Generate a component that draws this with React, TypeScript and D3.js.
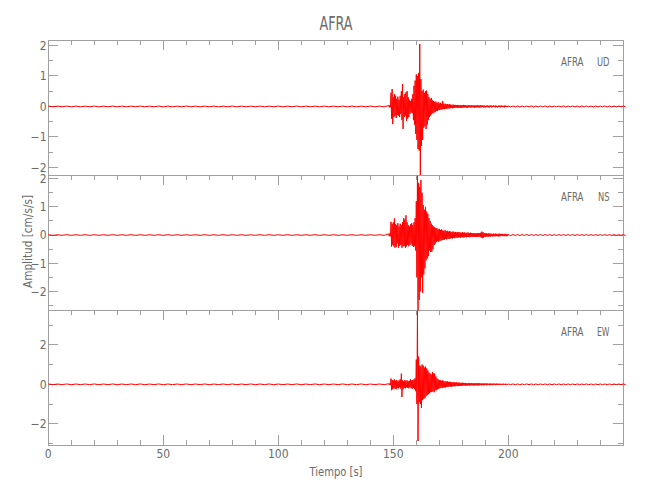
import React from "react";
import * as d3 from "d3";

// ---------- data ----------
const STATION = "AFRA";
const COMPONENTS = ["UD", "NS", "EW"];
const X_DOMAIN: [number, number] = [0, 250];
const X_MAJOR = [0, 50, 100, 150, 200];
const X_MINOR_STEP = 10;
const Y_DOMAINS: [number, number][] = [
  [-2.25, 2.18],
  [-2.66, 2.13],
  [-3.07, 3.76],
];
const Y_MAJOR = [
  [-2, -1, 0, 1, 2],
  [-2, -1, 0, 1, 2],
  [-2, 0, 2],
];
const Y_MINOR_STEP = [0.5, 0.5, 1];

// sampling of the envelope (seconds)
const PRE_START = 0, PRE_STEP = 4;
const ACT_START = 148, ACT_STEP = 0.5;
const TAIL_START = 200, TAIL_STEP = 2;

// quiet part before the event (envelope amplitude, 0..144 s every 4 s)
const UD_PRE = [0.012,0.010,0.012,0.011,0.010,0.012,0.010,0.012,0.011,0.010,0.012,0.010,0.012,0.011,0.010,0.012,0.011,0.010,0.012,0.010,0.012,0.011,0.010,0.012,0.010,0.012,0.010,0.012,0.011,0.010,0.012,0.010,0.012,0.011,0.010,0.012,0.011];
const NS_PRE = [0.013,0.011,0.013,0.012,0.013,0.011,0.012,0.013,0.011,0.013,0.012,0.011,0.013,0.012,0.013,0.011,0.012,0.013,0.011,0.013,0.012,0.013,0.011,0.012,0.013,0.011,0.013,0.012,0.011,0.013,0.012,0.013,0.011,0.013,0.012,0.011,0.013];
const EW_PRE = [0.018,0.015,0.018,0.016,0.015,0.018,0.016,0.018,0.015,0.016,0.018,0.015,0.018,0.016,0.015,0.018,0.016,0.018,0.015,0.016,0.018,0.015,0.018,0.016,0.018,0.015,0.016,0.018,0.015,0.018,0.016,0.015,0.018,0.016,0.018,0.015,0.016];

// active part: max / min of each 0.5 s column, 148..199.5 s
const UD_HI = [
  0.03,0.04,0.45,0.57,0.30,0.40,0.35,0.25,0.32,0.22,
  0.35,0.50,0.73,0.30,0.40,0.46,0.50,0.30,0.22,0.18,
  0.25,0.40,0.68,0.85,1.05,1.00,1.10,2.05,0.90,0.50,
  0.55,0.45,0.50,0.52,0.40,0.30,0.25,0.28,0.20,0.18,
  0.15,0.16,0.12,0.14,0.10,0.12,0.09,0.18,0.08,0.09,
  0.07,0.08,0.06,0.07,0.06,0.05,0.06,0.05,0.05,0.04,
  0.05,0.04,0.05,0.04,0.04,0.05,0.04,0.04,0.03,0.04,
  0.04,0.03,0.04,0.03,0.03,0.04,0.03,0.04,0.03,0.03,
  0.04,0.03,0.03,0.03,0.02,0.03,0.03,0.02,0.03,0.03,
  0.02,0.03,0.02,0.03,0.02,0.02,0.03,0.02,0.03,0.02,
  0.02,0.03,0.02,0.02,
];
const UD_LO = [
  -0.03,-0.03,-0.40,-0.58,-0.35,-0.30,-0.38,-0.28,-0.30,-0.35,
  -0.25,-0.45,-0.74,-0.35,-0.30,-0.47,-0.40,-0.35,-0.25,-0.20,
  -0.22,-0.45,-0.60,-0.90,-1.10,-1.40,-1.45,-2.25,-1.30,-1.10,
  -0.70,-0.65,-0.74,-0.60,-0.45,-0.35,-0.30,-0.25,-0.22,-0.20,
  -0.18,-0.14,-0.15,-0.12,-0.12,-0.10,-0.10,-0.08,-0.09,-0.07,
  -0.08,-0.06,-0.07,-0.06,-0.05,-0.06,-0.05,-0.05,-0.04,-0.05,
  -0.04,-0.04,-0.04,-0.05,-0.04,-0.04,-0.03,-0.04,-0.04,-0.03,
  -0.03,-0.04,-0.03,-0.03,-0.04,-0.03,-0.03,-0.03,-0.04,-0.03,
  -0.03,-0.02,-0.03,-0.03,-0.03,-0.02,-0.03,-0.03,-0.02,-0.03,
  -0.02,-0.02,-0.03,-0.02,-0.03,-0.02,-0.02,-0.03,-0.02,-0.02,
  -0.03,-0.02,-0.02,-0.02,
];
const NS_HI = [
  0.04,0.06,0.47,0.40,0.45,0.59,0.38,0.35,0.42,0.30,
  0.40,0.35,0.45,0.60,0.55,0.70,0.45,0.35,0.30,0.38,
  0.42,0.35,0.45,0.60,1.20,2.10,1.85,1.70,1.95,1.50,
  1.06,0.90,1.00,0.83,0.75,0.60,0.50,0.40,0.35,0.30,
  0.28,0.25,0.24,0.20,0.22,0.18,0.20,0.16,0.15,0.17,
  0.14,0.15,0.12,0.14,0.12,0.11,0.13,0.10,0.11,0.09,
  0.10,0.11,0.09,0.08,0.10,0.08,0.09,0.07,0.08,0.09,
  0.07,0.08,0.07,0.06,0.07,0.06,0.07,0.06,0.07,0.06,
  0.08,0.12,0.10,0.07,0.06,0.06,0.05,0.06,0.05,0.05,
  0.04,0.05,0.04,0.05,0.04,0.04,0.05,0.04,0.04,0.04,
  0.03,0.04,0.04,0.03,
];
const NS_LO = [
  -0.04,-0.05,-0.41,-0.35,-0.40,-0.45,-0.42,-0.30,-0.45,-0.38,
  -0.35,-0.45,-0.40,-0.38,-0.45,-0.40,-0.35,-0.40,-0.35,-0.30,
  -0.38,-0.42,-0.40,-0.55,-1.50,-2.68,-2.30,-2.00,-1.50,-2.05,
  -1.40,-1.18,-0.90,-0.83,-0.75,-0.55,-0.60,-0.59,-0.50,-0.35,
  -0.30,-0.25,-0.22,-0.24,-0.20,-0.20,-0.18,-0.17,-0.16,-0.14,
  -0.15,-0.13,-0.14,-0.12,-0.11,-0.12,-0.10,-0.11,-0.09,-0.10,
  -0.09,-0.08,-0.09,-0.08,-0.08,-0.09,-0.07,-0.08,-0.07,-0.07,
  -0.08,-0.06,-0.07,-0.06,-0.06,-0.07,-0.06,-0.07,-0.06,-0.07,
  -0.09,-0.11,-0.09,-0.06,-0.07,-0.05,-0.06,-0.05,-0.05,-0.04,
  -0.05,-0.04,-0.05,-0.04,-0.04,-0.05,-0.04,-0.04,-0.03,-0.04,
  -0.04,-0.03,-0.04,-0.03,
];
const EW_HI = [
  0.03,0.05,0.29,0.22,0.20,0.25,0.18,0.22,0.15,0.20,
  0.25,0.54,0.20,0.15,0.22,0.18,0.20,0.15,0.18,0.25,
  0.20,0.22,0.25,0.30,1.25,3.70,1.40,0.95,0.90,1.00,
  0.95,0.85,0.90,0.80,0.70,0.60,0.55,0.50,0.62,0.55,
  0.54,0.40,0.30,0.25,0.22,0.20,0.18,0.20,0.16,0.15,
  0.14,0.15,0.12,0.13,0.12,0.10,0.11,0.10,0.09,0.10,
  0.08,0.09,0.08,0.07,0.08,0.07,0.06,0.07,0.06,0.06,
  0.07,0.05,0.06,0.05,0.05,0.06,0.05,0.06,0.05,0.05,
  0.04,0.05,0.04,0.05,0.04,0.04,0.04,0.03,0.04,0.04,
  0.03,0.04,0.03,0.03,0.04,0.03,0.03,0.03,0.02,0.03,
  0.03,0.02,0.03,0.02,
];
const EW_LO = [
  -0.03,-0.04,-0.30,-0.25,-0.20,-0.22,-0.25,-0.18,-0.20,-0.15,
  -0.22,-0.64,-0.25,-0.18,-0.20,-0.15,-0.18,-0.20,-0.15,-0.20,
  -0.22,-0.18,-0.25,-0.35,-1.00,-2.87,-0.90,-1.00,-1.20,-0.80,
  -0.73,-0.70,-0.60,-0.55,-0.50,-0.45,-0.40,-0.39,-0.35,-0.40,
  -0.30,-0.30,-0.25,-0.22,-0.20,-0.18,-0.19,-0.16,-0.15,-0.16,
  -0.13,-0.14,-0.12,-0.11,-0.12,-0.10,-0.09,-0.10,-0.09,-0.08,
  -0.09,-0.08,-0.07,-0.08,-0.07,-0.06,-0.07,-0.06,-0.06,-0.05,
  -0.06,-0.05,-0.05,-0.06,-0.05,-0.05,-0.05,-0.05,-0.06,-0.04,
  -0.05,-0.04,-0.05,-0.04,-0.04,-0.05,-0.03,-0.04,-0.04,-0.03,
  -0.04,-0.03,-0.04,-0.03,-0.03,-0.03,-0.02,-0.03,-0.03,-0.03,
  -0.02,-0.03,-0.02,-0.02,
];

// coda (envelope amplitude, 200..250 s every 2 s)
const UD_TAIL = [0.015,0.012,0.015,0.013,0.012,0.015,0.012,0.013,0.015,0.012,0.013,0.012,0.015,0.012,0.013,0.012,0.015,0.012,0.012,0.013,0.012,0.015,0.012,0.013,0.012,0.012];
const NS_TAIL = [0.02,0.018,0.02,0.017,0.018,0.02,0.017,0.018,0.016,0.018,0.017,0.016,0.018,0.016,0.017,0.016,0.015,0.017,0.016,0.015,0.016,0.015,0.016,0.015,0.015,0.015];
const EW_TAIL = [0.02,0.018,0.02,0.018,0.017,0.02,0.018,0.017,0.018,0.016,0.018,0.017,0.016,0.018,0.016,0.017,0.016,0.018,0.016,0.016,0.017,0.016,0.016,0.017,0.016,0.016];

const TRACES = [
  { pre: UD_PRE, hi: UD_HI, lo: UD_LO, tail: UD_TAIL },
  { pre: NS_PRE, hi: NS_HI, lo: NS_LO, tail: NS_TAIL },
  { pre: EW_PRE, hi: EW_HI, lo: EW_LO, tail: EW_TAIL },
];

// ---------- layout ----------
const W = 650, H = 500;
const LEFT = 48.3, RIGHT = 623.3, TOP = 40, PANEL_H = 135;
const AXIS = "#a0a0a0";
const TEXT = "#6a6a6a";
const FONT = "'Liberation Sans Narrow', 'DejaVu Sans Condensed', 'Roboto', sans-serif";

function buildTrace(t: { pre: number[]; hi: number[]; lo: number[]; tail: number[] }): [number, number][] {
  const pts: [number, number][] = [];
  t.pre.forEach((a, i) => {
    const s = PRE_START + i * PRE_STEP;
    pts.push([s, a], [s + PRE_STEP / 2, -a]);
  });
  t.hi.forEach((a, i) => {
    const s = ACT_START + i * ACT_STEP;
    pts.push([s, a], [s + ACT_STEP / 2, t.lo[i]]);
  });
  t.tail.forEach((a, i) => {
    const s = TAIL_START + i * TAIL_STEP;
    pts.push([s, a], [s + TAIL_STEP / 2, -a]);
  });
  return pts;
}

const fmt = (v: number) => (v < 0 ? "\u2212" + Math.abs(v) : String(v));

export default function App() {
  const x = d3.scaleLinear().domain(X_DOMAIN).range([LEFT, RIGHT]);
  const xMinor = d3.range(X_DOMAIN[0], X_DOMAIN[1], X_MINOR_STEP).filter((v) => !X_MAJOR.includes(v) && v > X_DOMAIN[0]);
  const xMajor = X_MAJOR.filter((v) => v > X_DOMAIN[0]);

  const panels = COMPONENTS.map((comp, i) => {
    const top = TOP + i * PANEL_H;
    const bottom = top + PANEL_H;
    const [lo, hi] = Y_DOMAINS[i];
    const y = d3.scaleLinear().domain([lo, hi]).range([bottom, top]);
    const step = Y_MINOR_STEP[i];
    const minor = d3.range(Math.ceil(lo / step) * step, hi + 1e-9, step).filter((v) => !Y_MAJOR[i].some((m) => Math.abs(m - v) < 1e-9));
    const line = d3.line<[number, number]>().x((d) => x(d[0])).y((d) => y(d[1]));
    const path = line(buildTrace(TRACES[i])) || "";
    return { comp, top, bottom, y, minor, path, major: Y_MAJOR[i], isLast: i === COMPONENTS.length - 1 };
  });

  return (
    <svg width={W} height={H} style={{ position: "absolute", left: 0, top: 0, background: "#fff" }} fontFamily={FONT}>
      <rect x={0} y={0} width={W} height={H} fill="#fff" />
      <text x={336} y={30} textAnchor="middle" fontSize={19.5} fill={TEXT} textLength={33} lengthAdjust="spacingAndGlyphs">
        {STATION}
      </text>

      {panels.map((p, i) => (
        <g key={"ax" + i} stroke={AXIS} strokeWidth={1} shapeRendering="crispEdges" fill="none">
          <rect x={LEFT} y={p.top} width={RIGHT - LEFT} height={PANEL_H} />
          {xMajor.map((v) => (
            <line key={"tM" + v} x1={x(v)} x2={x(v)} y1={p.top} y2={p.top + 9.5} />
          ))}
          {xMinor.map((v) => (
            <line key={"tm" + v} x1={x(v)} x2={x(v)} y1={p.top} y2={p.top + 4.5} />
          ))}
          {p.isLast &&
            xMajor.map((v) => <line key={"bM" + v} x1={x(v)} x2={x(v)} y1={p.bottom} y2={p.bottom - 10} />)}
          {p.isLast &&
            xMinor.map((v) => <line key={"bm" + v} x1={x(v)} x2={x(v)} y1={p.bottom} y2={p.bottom - 5} />)}
          {p.major.map((v) => (
            <g key={"yM" + v}>
              <line x1={LEFT} x2={LEFT + 10} y1={p.y(v)} y2={p.y(v)} />
              <line x1={RIGHT} x2={RIGHT - 10} y1={p.y(v)} y2={p.y(v)} />
            </g>
          ))}
          {p.minor.map((v) => (
            <g key={"ym" + v}>
              <line x1={LEFT} x2={LEFT + 5} y1={p.y(v)} y2={p.y(v)} />
              <line x1={RIGHT} x2={RIGHT - 5} y1={p.y(v)} y2={p.y(v)} />
            </g>
          ))}
        </g>
      ))}

      {panels.map((p, i) => (
        <g key={"lab" + i} fill={TEXT} fontSize={12}>
          {p.major.map((v) => (
            <text key={"yl" + v} x={46.5} y={p.y(v)} dy="0.36em" textAnchor="end">
              {fmt(v)}
            </text>
          ))}
          <text x={561} y={p.top + 25.5} fontSize={12.4} textLength={22.5} lengthAdjust="spacingAndGlyphs">
            {STATION}
          </text>
          <text x={609.5} y={p.top + 25.5} fontSize={12.4} textAnchor="end" textLength={p.comp === "NS" ? 11.5 : 12.5} lengthAdjust="spacingAndGlyphs">
            {p.comp}
          </text>
        </g>
      ))}

      {X_MAJOR.map((v) => (
        <text key={"xl" + v} x={x(v)} y={458} textAnchor="middle" fontSize={12} fill={TEXT}>
          {v}
        </text>
      ))}
      <text x={336} y={476} textAnchor="middle" fontSize={12.5} fill={TEXT} textLength={53} lengthAdjust="spacingAndGlyphs">
        Tiempo [s]
      </text>
      <text
        transform="translate(32,241.5) rotate(-90)"
        textAnchor="middle"
        fontSize={12.5}
        fill={TEXT}
        textLength={93}
        lengthAdjust="spacingAndGlyphs"
      >
        Amplitud [cm/s/s]
      </text>

      {panels.map((p, i) => (
        <path key={"tr" + i} d={p.path} fill="none" stroke="#ff0000" strokeWidth={1} strokeLinejoin="miter" />
      ))}
    </svg>
  );
}
